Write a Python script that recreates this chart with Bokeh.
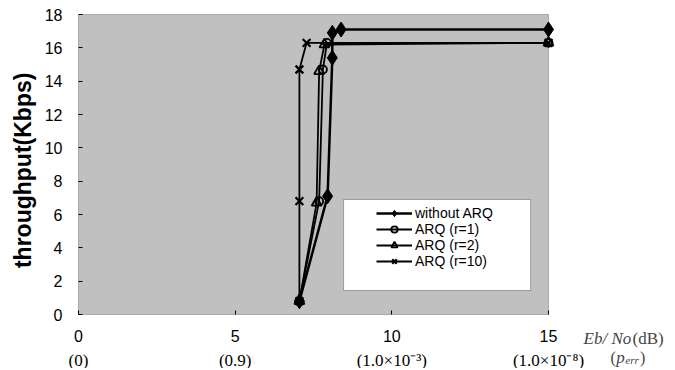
import math
from bokeh.plotting import figure
from bokeh.models import Range1d, LinearAxis, FixedTicker, Legend, LegendItem, Label, BoxAnnotation
from bokeh.embed import file_html
from bokeh.resources import INLINE

# ---- data ----
x_ticks = [0, 5, 10, 15]
x_sub_labels = ["(0)", "(0.9)", "(1.0×10⁻³)", "(1.0×10⁻⁸)"]
y_ticks = [0, 2, 4, 6, 8, 10, 12, 14, 16, 18]
x_lim = [0, 15]
y_lim = [0, 18]
y_title = "throughput(Kbps)"

ebno_no_arq = [7.05, 7.95, 8.1, 8.1, 8.38, 15.0]
thr_no_arq = [0.8, 7.1, 15.4, 16.9, 17.1, 17.1]

ebno_r1 = [7.05, 7.68, 7.8, 7.93, 15.0]
thr_r1 = [0.8, 6.8, 14.7, 16.3, 16.3]

ebno_r2 = [7.05, 7.6, 7.68, 7.85, 15.0]
thr_r2 = [0.8, 6.7, 14.6, 16.2, 16.3]

ebno_r10 = [7.05, 7.05, 7.05, 7.28, 15.0]
thr_r10 = [0.8, 6.8, 14.7, 16.3, 16.3]

series_labels = ["without ARQ", "ARQ (r=1)", "ARQ (r=2)", "ARQ (r=10)"]

# the frame covers the whole canvas; axes are pinned to x=0 / y=0
W, H = 672, 368
p = figure(width=W, height=H, x_range=Range1d(-2.489, 18.957), y_range=Range1d(-3.24, 18.84),
           output_backend="svg", toolbar_location=None,
           min_border_left=0, min_border_right=0, min_border_top=0, min_border_bottom=0)

p.background_fill_color = "white"
p.border_fill_color = "white"
p.outline_line_color = None
p.xgrid.visible = False
p.ygrid.visible = False

# grey plotting box
area = BoxAnnotation(left=x_lim[0], right=x_lim[1], bottom=y_lim[0], top=y_lim[1],
                     fill_color="#c0c0c0", fill_alpha=1.0, line_color="#333333",
                     line_width=1, level="underlay")
p.add_layout(area)

# y axis, pinned at x = 0
p.yaxis.ticker = FixedTicker(ticks=y_ticks)
p.yaxis.fixed_location = 0
p.yaxis.major_tick_in = 4
p.yaxis.major_tick_out = 0
p.yaxis.minor_tick_line_color = None
p.yaxis.axis_line_color = None
p.yaxis.major_label_text_font = "Liberation Sans"
p.yaxis.major_label_text_font_size = "16px"
p.yaxis.major_label_text_color = "black"
p.yaxis.major_label_standoff = 16

# y axis title (centred on the 0-18 box)
p.add_layout(Label(x=-1.76, y=(y_lim[0] + y_lim[1]) / 2 - 0.35, text=y_title, angle=math.pi / 2,
                   text_font="Liberation Sans", text_font_style="bold", text_font_size="23px",
                   text_color="black", text_align="center", text_baseline="middle"))

# x axis (main numbers), pinned at y = 0
p.xaxis.ticker = FixedTicker(ticks=x_ticks)
p.xaxis.fixed_location = 0
p.xaxis.major_tick_in = 4
p.xaxis.major_tick_out = 0
p.xaxis.minor_tick_line_color = None
p.xaxis.axis_line_color = None
p.xaxis.major_label_text_font = "Liberation Sans"
p.xaxis.major_label_text_font_size = "16px"
p.xaxis.major_label_text_color = "black"
p.xaxis.major_label_standoff = 15

# second row of x labels (p_err)
ax2 = LinearAxis(ticker=FixedTicker(ticks=x_ticks), fixed_location=0,
                 major_label_overrides=dict(zip(x_ticks, x_sub_labels)),
                 axis_line_color=None, major_tick_line_color=None, minor_tick_line_color=None,
                 major_label_standoff=30, major_label_text_font="Liberation Serif",
                 major_label_text_font_size="17px", major_label_text_color="black")
p.add_layout(ax2, "below")

# series
l0 = p.line(ebno_no_arq, thr_no_arq, line_color="black", line_width=2.5)
s0 = p.scatter(ebno_no_arq, thr_no_arq, marker="diamond", size=15, fill_color="black", line_color="black")

l1 = p.line(ebno_r1, thr_r1, line_color="black", line_width=1.8)
s1 = p.scatter(ebno_r1, thr_r1, marker="circle", size=8, fill_color=None, line_color="black", line_width=1.8)

l2 = p.line(ebno_r2, thr_r2, line_color="black", line_width=1.8)
s2 = p.scatter(ebno_r2, thr_r2, marker="triangle", size=10, fill_color=None, line_color="black", line_width=1.8)

l3 = p.line(ebno_r10, thr_r10, line_color="black", line_width=1.8)
s3 = p.scatter(ebno_r10, thr_r10, marker="x", size=11, line_color="black", line_width=2.2)

# legend box
box = BoxAnnotation(left=8.46, right=14.43, bottom=1.44, top=6.9,
                    fill_color="white", fill_alpha=1.0, line_color="black", line_width=1)
p.add_layout(box)

legend = Legend(items=[LegendItem(label=series_labels[0], renderers=[l0, s0]),
                       LegendItem(label=series_labels[1], renderers=[l1, s1]),
                       LegendItem(label=series_labels[2], renderers=[l2, s2]),
                       LegendItem(label=series_labels[3], renderers=[l3, s3])],
                location=(376, 99), background_fill_alpha=0, border_line_color=None,
                padding=0, margin=0, spacing=0, glyph_width=36, glyph_height=16,
                label_height=16, label_standoff=3, label_text_font="Liberation Sans",
                label_text_font_size="14px", label_text_color="black")
p.add_layout(legend)

# axis title at the right of the x axis
p.add_layout(Label(x=16.12, y=-1.44, text="Eb/ No", text_font="Liberation Serif",
                   text_font_style="italic", text_font_size="17px", text_baseline="middle"))
p.add_layout(Label(x=17.68, y=-1.44, text="(dB)", text_font="Liberation Serif",
                   text_font_size="17px", text_baseline="middle"))
p.add_layout(Label(x=16.98, y=-2.55, text="(", text_font="Liberation Serif",
                   text_font_size="16px", text_baseline="middle"))
p.add_layout(Label(x=17.16, y=-2.55, text="p", text_font="Liberation Serif",
                   text_font_style="italic", text_font_size="17px", text_baseline="middle"))
p.add_layout(Label(x=17.45, y=-2.72, text="err", text_font="Liberation Serif",
                   text_font_style="italic", text_font_size="11px", text_baseline="middle"))
p.add_layout(Label(x=17.92, y=-2.55, text=")", text_font="Liberation Serif",
                   text_font_size="16px", text_baseline="middle"))

open("out.html", "w").write(file_html(p, INLINE))
